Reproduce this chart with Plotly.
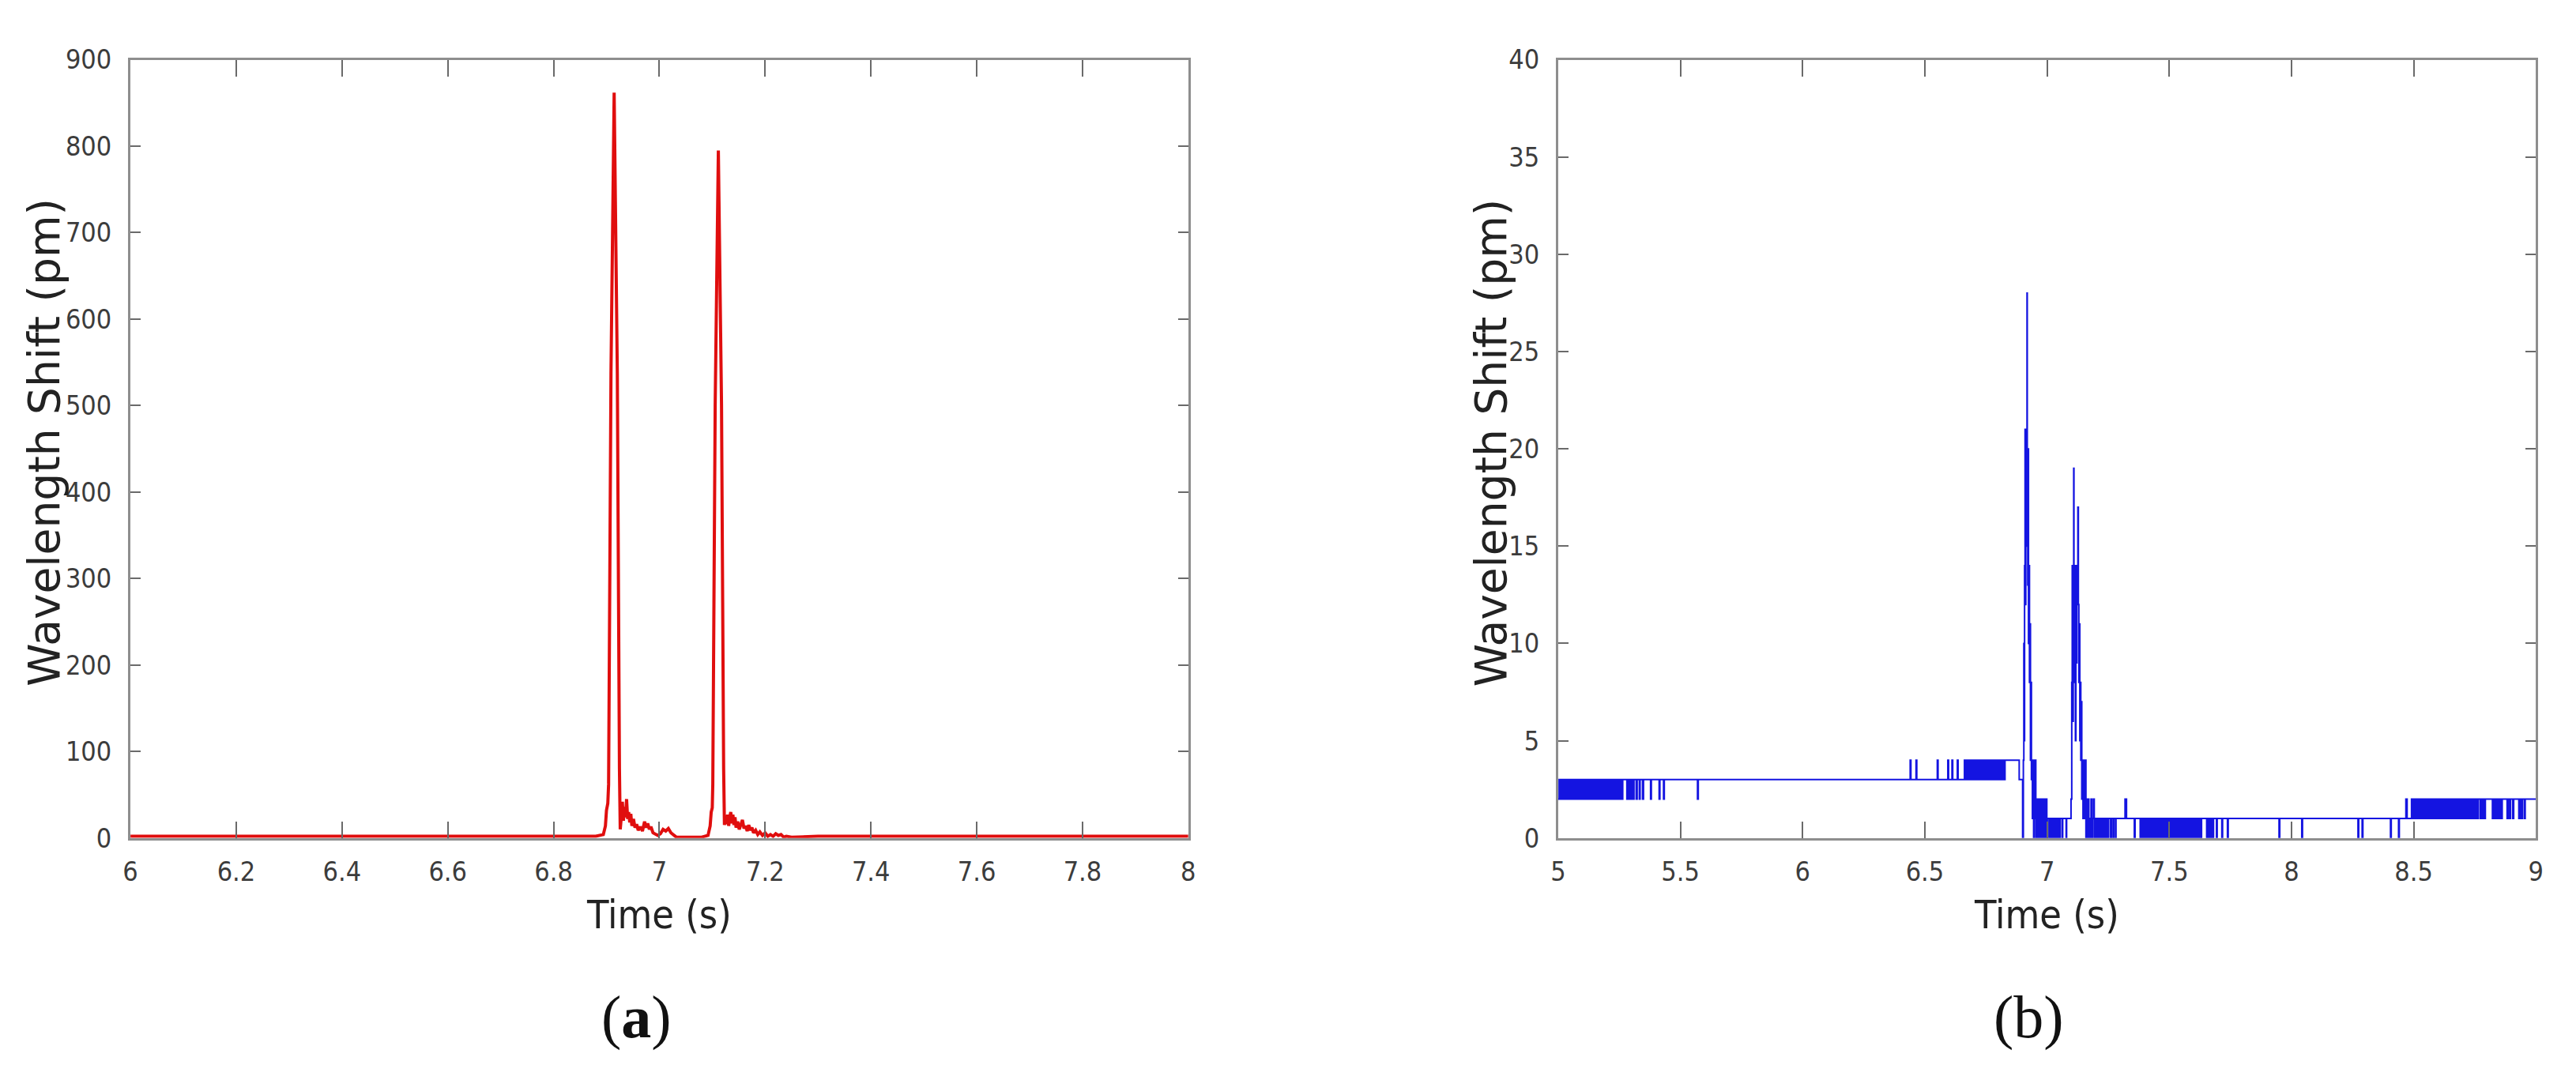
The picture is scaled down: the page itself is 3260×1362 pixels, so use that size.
import plotly.graph_objects as go

# ---------------- data ----------------
# panel (a): wavelength shift (pm) vs time (s), red
a_points = [
    (6.000, 2), (6.100, 2), (6.200, 2), (6.300, 2), (6.400, 2), (6.500, 2), (6.600, 2), (6.700, 2),
    (6.800, 2), (6.880, 2), (6.894, 4), (6.898, 14), (6.900, 32), (6.9025, 40), (6.904, 62),
    (6.9085, 537), (6.9145, 862), (6.9205, 537), (6.9245, 80), (6.926, 10),
    (6.928, 24), (6.930, 42), (6.932, 20), (6.934, 36), (6.936, 24), (6.938, 45), (6.940, 22),
    (6.942, 30), (6.944, 18), (6.946, 28), (6.948, 14), (6.951, 22), (6.954, 12), (6.957, 16),
    (6.960, 9), (6.964, 13), (6.968, 8), (6.972, 19), (6.975, 12), (6.978, 17), (6.981, 10),
    (6.984, 13), (6.988, 6), (6.992, 5), (6.997, 3), (7.002, 5), (7.007, 10), (7.012, 8),
    (7.017, 11), (7.022, 6), (7.027, 3), (7.032, 1), (7.040, 1), (7.060, 1), (7.080, 1),
    (7.092, 3), (7.096, 14), (7.098, 30), (7.100, 35), (7.101, 62), (7.1055, 500),
    (7.1115, 795), (7.1175, 500), (7.1215, 80), (7.123, 15), (7.125, 26), (7.127, 16),
    (7.129, 27), (7.131, 14), (7.133, 24), (7.135, 30), (7.137, 17), (7.139, 27), (7.141, 15),
    (7.143, 24), (7.145, 12), (7.148, 19), (7.151, 10), (7.154, 17), (7.157, 21), (7.160, 11),
    (7.163, 14), (7.166, 8), (7.169, 15), (7.172, 9), (7.175, 12), (7.178, 6), (7.182, 9),
    (7.186, 4), (7.190, 7), (7.195, 3), (7.200, 6), (7.205, 2), (7.210, 4), (7.215, 2),
    (7.220, 5), (7.225, 3), (7.230, 4), (7.235, 1), (7.240, 2), (7.250, 1), (7.300, 2),
    (7.400, 2), (7.500, 2), (7.600, 2), (7.700, 2), (7.800, 2), (7.900, 2), (8.000, 2),
]

# panel (b): wavelength shift (pm) vs time (s), blue, quantised steps
b_seg_early = [
    (5.000, 2), (5.004, 3), (5.008, 2), (5.012, 3), (5.015, 2), (5.019, 3), (5.023, 2), (5.027, 3),
    (5.030, 2), (5.034, 3), (5.038, 2), (5.042, 3), (5.045, 2), (5.049, 3), (5.053, 2), (5.057, 3),
    (5.060, 2), (5.064, 3), (5.068, 2), (5.072, 3), (5.075, 2), (5.079, 3), (5.083, 2), (5.087, 3),
    (5.090, 2), (5.094, 3), (5.098, 2), (5.102, 3), (5.105, 2), (5.109, 3), (5.113, 2), (5.117, 3),
    (5.120, 2), (5.124, 3), (5.128, 2), (5.132, 3), (5.136, 2), (5.140, 3), (5.143, 2), (5.147, 3),
    (5.151, 2), (5.155, 3), (5.159, 2), (5.163, 3), (5.166, 2), (5.170, 3), (5.174, 2), (5.178, 3),
    (5.182, 2), (5.186, 3), (5.189, 2), (5.193, 3), (5.197, 2), (5.201, 3), (5.205, 2), (5.209, 3),
    (5.212, 2), (5.216, 3), (5.220, 2), (5.224, 3), (5.228, 2), (5.232, 3), (5.236, 2), (5.240, 3),
    (5.244, 2), (5.248, 3), (5.252, 2), (5.256, 3), (5.260, 2), (5.264, 3),
    (5.281, 2), (5.285, 3), (5.289, 2), (5.293, 3), (5.297, 2), (5.301, 3), (5.306, 2), (5.310, 3),
    (5.319, 2), (5.323, 3), (5.332, 2), (5.335, 3), (5.345, 2), (5.349, 3),
    (5.378, 2), (5.381, 3), (5.413, 2), (5.416, 3), (5.431, 2), (5.434, 3), (5.570, 2), (5.573, 3),
]
b_seg_pre = [
    (6.440, 4), (6.443, 3), (6.464, 4), (6.467, 3), (6.551, 4), (6.554, 3), (6.594, 4), (6.597, 3),
    (6.611, 4), (6.614, 3), (6.633, 4), (6.636, 3),
    (6.662, 4), (6.666, 3), (6.670, 4), (6.674, 3), (6.678, 4), (6.682, 3), (6.686, 4), (6.690, 3),
    (6.694, 4), (6.698, 3), (6.702, 4), (6.706, 3), (6.710, 4), (6.714, 3), (6.718, 4), (6.722, 3),
    (6.726, 4), (6.730, 3), (6.734, 4), (6.738, 3), (6.742, 4), (6.746, 3), (6.750, 4), (6.754, 3),
    (6.758, 4), (6.762, 3), (6.766, 4), (6.770, 3), (6.774, 4), (6.778, 3), (6.782, 4), (6.786, 3),
    (6.790, 4), (6.794, 3), (6.798, 4), (6.802, 3), (6.806, 4), (6.810, 3), (6.814, 4), (6.818, 3),
    (6.822, 4), (6.826, 3), (6.828, 4), (6.886, 3),
]
b_seg_peak1 = [
    (6.900, 0), (6.903, 4), (6.905, 10), (6.907, 5), (6.908, 14), (6.910, 21), (6.912, 12),
    (6.913, 20), (6.915, 15), (6.916, 21), (6.918, 28), (6.919, 20), (6.921, 13), (6.922, 20),
    (6.924, 10), (6.926, 14), (6.928, 8), (6.930, 11), (6.932, 4), (6.934, 8), (6.936, 3),
    (6.938, 4), (6.940, 1), (6.942, 4), (6.945, 0), (6.947, 4), (6.950, 1), (6.952, 4),
    (6.954, 0), (6.956, 2), (6.959, 0), (6.961, 2), (6.964, 0), (6.967, 2), (6.970, 0),
    (6.972, 2), (6.976, 0), (6.979, 2), (6.983, 0), (6.986, 2), (6.991, 0), (6.994, 2),
    (6.999, 0), (7.001, 1), (7.008, 0), (7.011, 1), (7.015, 0), (7.018, 1), (7.022, 0),
    (7.025, 1), (7.029, 0), (7.032, 1), (7.036, 0), (7.039, 1), (7.043, 0), (7.046, 1),
    (7.051, 0), (7.054, 1), (7.062, 0), (7.064, 1), (7.078, 0), (7.080, 1),
]
b_seg_peak2 = [
    (7.098, 2), (7.101, 8), (7.103, 14), (7.105, 6), (7.107, 14), (7.109, 19), (7.110, 13),
    (7.112, 8), (7.114, 14), (7.116, 5), (7.118, 13), (7.120, 9), (7.122, 14), (7.124, 12),
    (7.126, 17), (7.128, 12), (7.130, 8), (7.132, 11), (7.134, 5), (7.136, 8), (7.138, 4),
    (7.140, 7), (7.142, 2), (7.144, 4), (7.147, 1), (7.150, 4), (7.153, 1), (7.156, 4),
    (7.159, 0), (7.162, 2), (7.165, 0), (7.168, 2), (7.171, 0), (7.174, 1), (7.177, 0),
    (7.180, 2), (7.183, 0), (7.186, 1), (7.190, 2), (7.193, 0), (7.197, 1), (7.201, 0),
    (7.205, 1), (7.209, 0), (7.212, 1), (7.216, 0), (7.219, 1), (7.223, 0), (7.226, 1),
    (7.231, 0), (7.234, 1), (7.240, 0), (7.243, 1), (7.249, 0), (7.252, 1), (7.260, 0),
    (7.263, 1), (7.270, 0), (7.273, 1), (7.280, 0), (7.282, 1), (7.319, 2), (7.325, 1),
    (7.357, 0), (7.360, 1),
]
b_seg_post = [
    (7.381, 0), (7.385, 1), (7.389, 0), (7.393, 1), (7.397, 0), (7.401, 1), (7.405, 0), (7.409, 1),
    (7.413, 0), (7.417, 1), (7.421, 0), (7.425, 1), (7.429, 0), (7.433, 1), (7.437, 0), (7.441, 1),
    (7.445, 0), (7.449, 1), (7.453, 0), (7.457, 1), (7.461, 0), (7.465, 1), (7.469, 0), (7.473, 1),
    (7.477, 0), (7.481, 1), (7.485, 0), (7.489, 1), (7.493, 0), (7.497, 1), (7.501, 0), (7.505, 1),
    (7.509, 0), (7.513, 1), (7.517, 0), (7.521, 1), (7.525, 0), (7.529, 1), (7.533, 0), (7.537, 1),
    (7.541, 0), (7.545, 1), (7.549, 0), (7.553, 1), (7.557, 0), (7.561, 1), (7.565, 0), (7.569, 1),
    (7.573, 0), (7.577, 1), (7.581, 0), (7.585, 1), (7.589, 0), (7.593, 1), (7.597, 0), (7.601, 1),
    (7.605, 0), (7.609, 1), (7.613, 0), (7.617, 1), (7.621, 0), (7.625, 1), (7.629, 0), (7.632, 1),
    (7.653, 0), (7.657, 1), (7.661, 0), (7.665, 1), (7.669, 0), (7.673, 1), (7.677, 0), (7.681, 1),
    (7.693, 0), (7.696, 1), (7.715, 0), (7.718, 1), (7.738, 0), (7.741, 1),
    (7.949, 0), (7.952, 1), (8.042, 0), (8.045, 1), (8.272, 0), (8.275, 1), (8.289, 0), (8.292, 1),
    (8.405, 0), (8.408, 1), (8.438, 0), (8.441, 1),
]
b_seg_late = [
    (8.468, 2), (8.473, 1), (8.491, 2), (8.496, 1), (8.500, 2), (8.504, 1), (8.508, 2), (8.512, 1),
    (8.516, 2), (8.520, 1), (8.524, 2), (8.528, 1), (8.532, 2), (8.536, 1), (8.540, 2), (8.544, 1),
    (8.548, 2), (8.552, 1), (8.556, 2), (8.560, 1), (8.564, 2), (8.568, 1), (8.572, 2), (8.576, 1),
    (8.580, 2), (8.584, 1), (8.588, 2), (8.592, 1), (8.596, 2), (8.600, 1), (8.604, 2), (8.608, 1),
    (8.612, 2), (8.616, 1), (8.620, 2), (8.624, 1), (8.628, 2), (8.632, 1), (8.636, 2), (8.640, 1),
    (8.644, 2), (8.648, 1), (8.652, 2), (8.656, 1), (8.660, 2), (8.664, 1), (8.668, 2), (8.672, 1),
    (8.676, 2), (8.680, 1), (8.684, 2), (8.688, 1), (8.692, 2), (8.696, 1), (8.700, 2), (8.704, 1),
    (8.708, 2), (8.712, 1), (8.716, 2), (8.720, 1), (8.724, 2), (8.728, 1), (8.732, 2), (8.736, 1),
    (8.740, 2), (8.744, 1), (8.748, 2), (8.752, 1), (8.756, 2), (8.760, 1), (8.764, 2),
    (8.772, 1), (8.775, 2), (8.781, 1), (8.784, 2), (8.790, 1), (8.793, 2), (8.822, 1), (8.826, 2),
    (8.830, 1), (8.834, 2), (8.838, 1), (8.842, 2), (8.848, 1), (8.852, 2), (8.858, 1), (8.862, 2),
    (8.882, 1), (8.886, 2), (8.892, 1), (8.896, 2), (8.905, 1), (8.909, 2), (8.930, 1), (8.934, 2),
    (8.940, 1), (8.944, 2), (8.952, 1), (8.956, 2), (9.000, 2),
]

a_xticks = [6.0, 6.2, 6.4, 6.6, 6.8, 7.0, 7.2, 7.4, 7.6, 7.8, 8.0]
a_xlabels = ["6", "6.2", "6.4", "6.6", "6.8", "7", "7.2", "7.4", "7.6", "7.8", "8"]
a_yticks = [0, 100, 200, 300, 400, 500, 600, 700, 800, 900]
b_xticks = [5.0, 5.5, 6.0, 6.5, 7.0, 7.5, 8.0, 8.5, 9.0]
b_xlabels = ["5", "5.5", "6", "6.5", "7", "7.5", "8", "8.5", "9"]
b_yticks = [0, 5, 10, 15, 20, 25, 30, 35, 40]

# ---------------- figure ----------------
W, H = 3260, 1362
a_time = [p[0] for p in a_points]
a_shift = [p[1] for p in a_points]
b_all = b_seg_early + b_seg_pre + b_seg_peak1 + b_seg_peak2 + b_seg_post + b_seg_late
b_time = [p[0] for p in b_all]
b_shift = [p[1] for p in b_all]

fig = go.Figure()
fig.add_trace(go.Scatter(x=a_time, y=a_shift, mode="lines",
                         line=dict(color="rgb(224,14,14)", width=4),
                         xaxis="x", yaxis="y", showlegend=False, hoverinfo="skip"))
fig.add_trace(go.Scatter(x=b_time, y=b_shift, mode="lines",
                         line=dict(color="rgb(20,20,225)", width=2, shape="hv"),
                         xaxis="x2", yaxis="y2", showlegend=False, hoverinfo="skip"))

tickfont = dict(family="DejaVu Sans Condensed, Liberation Sans Narrow, Arial Narrow, sans-serif",
                size=34, color="#3c3c3c")
common = dict(showline=True, linecolor="#8e8e8e", linewidth=3, mirror="ticks",
              ticks="inside", tickcolor="#6a6a6a", tickwidth=2,
              showgrid=False, zeroline=False, tickfont=tickfont)

plot_top, plot_bot = 49, 1064
ydom = [1 - plot_bot / H, 1 - plot_top / H]
a_l, a_r = 148, 1495
b_l, b_r = 1966, 3211

fig.update_layout(
    width=W, height=H,
    margin=dict(l=0, r=0, t=0, b=0),
    paper_bgcolor="white", plot_bgcolor="white",
    showlegend=False,
    xaxis=dict(domain=[a_l / W, a_r / W], range=[6, 8], tickvals=a_xticks, ticktext=a_xlabels,
               ticklen=21, anchor="y", ticklabelstandoff=10, **common),
    yaxis=dict(domain=ydom, range=[0, 900], tickvals=a_yticks, ticklen=13, anchor="x",
               ticklabelstandoff=14, **common),
    xaxis2=dict(domain=[b_l / W, b_r / W], range=[5, 9], tickvals=b_xticks, ticktext=b_xlabels,
                ticklen=21, anchor="y2", ticklabelstandoff=10, **common),
    yaxis2=dict(domain=ydom, range=[0, 40], tickvals=b_yticks, ticklen=13, anchor="x2",
                ticklabelstandoff=14, **common),
)

ytitle_font = dict(family="DejaVu Sans, sans-serif", size=55, color="#222222")
xtitle_font = dict(family="DejaVu Sans Condensed, Liberation Sans Narrow, Arial Narrow, sans-serif",
                   size=50, color="#222222")
label_font = dict(family="Liberation Serif, Times New Roman, serif", size=76, color="#111111")

annots = [
    dict(text="Wavelength Shift (pm)", x=38 / W, y=1 - 548 / H, textangle=-90, font=ytitle_font),
    dict(text="Wavelength Shift (pm)", x=1880 / W, y=1 - 548 / H, textangle=-90, font=ytitle_font),
    dict(text="Time (s)", x=821 / W, y=1 - 1164 / H, font=xtitle_font),
    dict(text="Time (s)", x=2588 / W, y=1 - 1164 / H, font=xtitle_font),
    dict(text="(<b>a</b>)", x=792 / W, y=1 - 1298 / H, font=label_font),
    dict(text="(b)", x=2565 / W, y=1 - 1298 / H, font=label_font),
]
for a in annots:
    fig.add_annotation(xref="paper", yref="paper", showarrow=False,
                       xanchor="center", yanchor="middle", **a)

fig.write_html("out.html")
